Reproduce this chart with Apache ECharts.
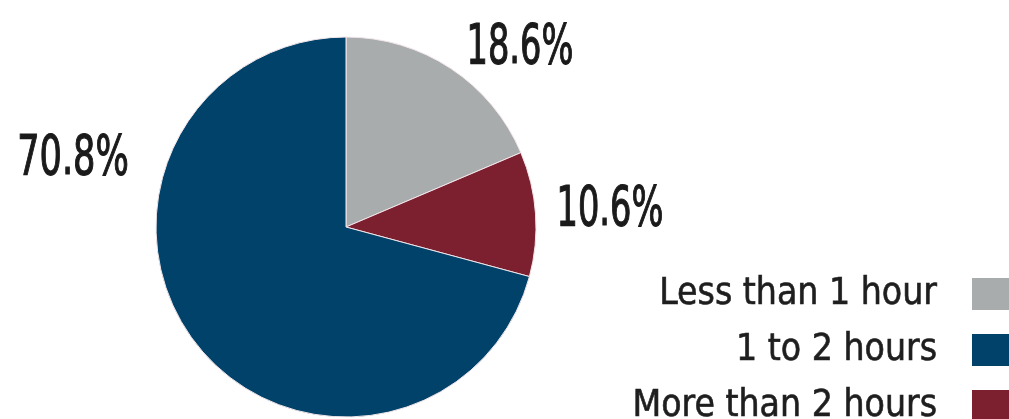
<!DOCTYPE html>
<html>
<head>
<meta charset="utf-8">
<script src="https://cdn.jsdelivr.net/npm/echarts@6/dist/echarts.min.js"></script>
<style>
  html, body { margin: 0; padding: 0; background: #ffffff; }
  #chart { width: 1009px; height: 419px; }
</style>
</head>
<body>
<div id="chart"></div>
<script>
// Slices in drawing order (clockwise from 12 o'clock)
const sliceNames = ['Less than 1 hour', 'More than 2 hours', '1 to 2 hours'];
const sliceValues = [18.6, 10.6, 70.8];
const sliceColors = ['#a8acac', '#7c1f2f', '#00426a'];
// Legend order
const legendNames = ['Less than 1 hour', '1 to 2 hours', 'More than 2 hours'];

const FONT = '"DejaVu Sans Condensed", "Liberation Sans Narrow", sans-serif';

// Centre of each percentage label, in slice order
const labelSpots = [[520, 49], [610, 211], [73, 160]];

const chart = echarts.init(document.getElementById('chart'), null, { renderer: 'canvas' });

// Percentage labels as narrow (horizontally squeezed) text, read from the slice values
const percentLabels = sliceValues.map((v, i) => ({
  type: 'text',
  x: labelSpots[i][0],
  y: labelSpots[i][1],
  scaleX: i === 2 ? 0.71 : 0.68,
  silent: true,
  style: {
    text: v.toFixed(1) + '%',
    fontFamily: FONT,
    fontSize: 55,
    fill: '#1a1a1a',
    stroke: '#1a1a1a',
    lineWidth: 1.2,
    align: 'center',
    verticalAlign: 'middle'
  }
}));

chart.setOption({
  backgroundColor: '#ffffff',
  animation: false,
  graphic: { elements: percentLabels },
  legend: {
    data: legendNames,
    orient: 'vertical',
    align: 'right',
    right: -8,
    top: 268,
    height: 200,
    padding: 0,
    itemWidth: 45,
    itemHeight: 32,
    itemGap: 4,
    icon: 'rect',
    selectedMode: false,
    itemStyle: { borderWidth: 0 },
    textStyle: {
      fontFamily: FONT,
      fontSize: 37,
      color: '#1e1e1e',
      textBorderColor: '#1e1e1e',
      textBorderWidth: 0.6,
      lineHeight: 32,
      padding: [20, 30, 0, 0]
    }
  },
  series: [{
    type: 'pie',
    center: [346, 227],
    radius: 190,
    startAngle: 90,
    clockwise: true,
    silent: true,
    data: sliceNames.map((n, i) => ({
      name: n,
      value: sliceValues[i],
      itemStyle: { color: sliceColors[i] }
    })),
    itemStyle: { borderColor: '#f2e6ea', borderWidth: 1 },
    label: { show: false },
    labelLine: { show: false }
  }]
});
</script>
</body>
</html>
